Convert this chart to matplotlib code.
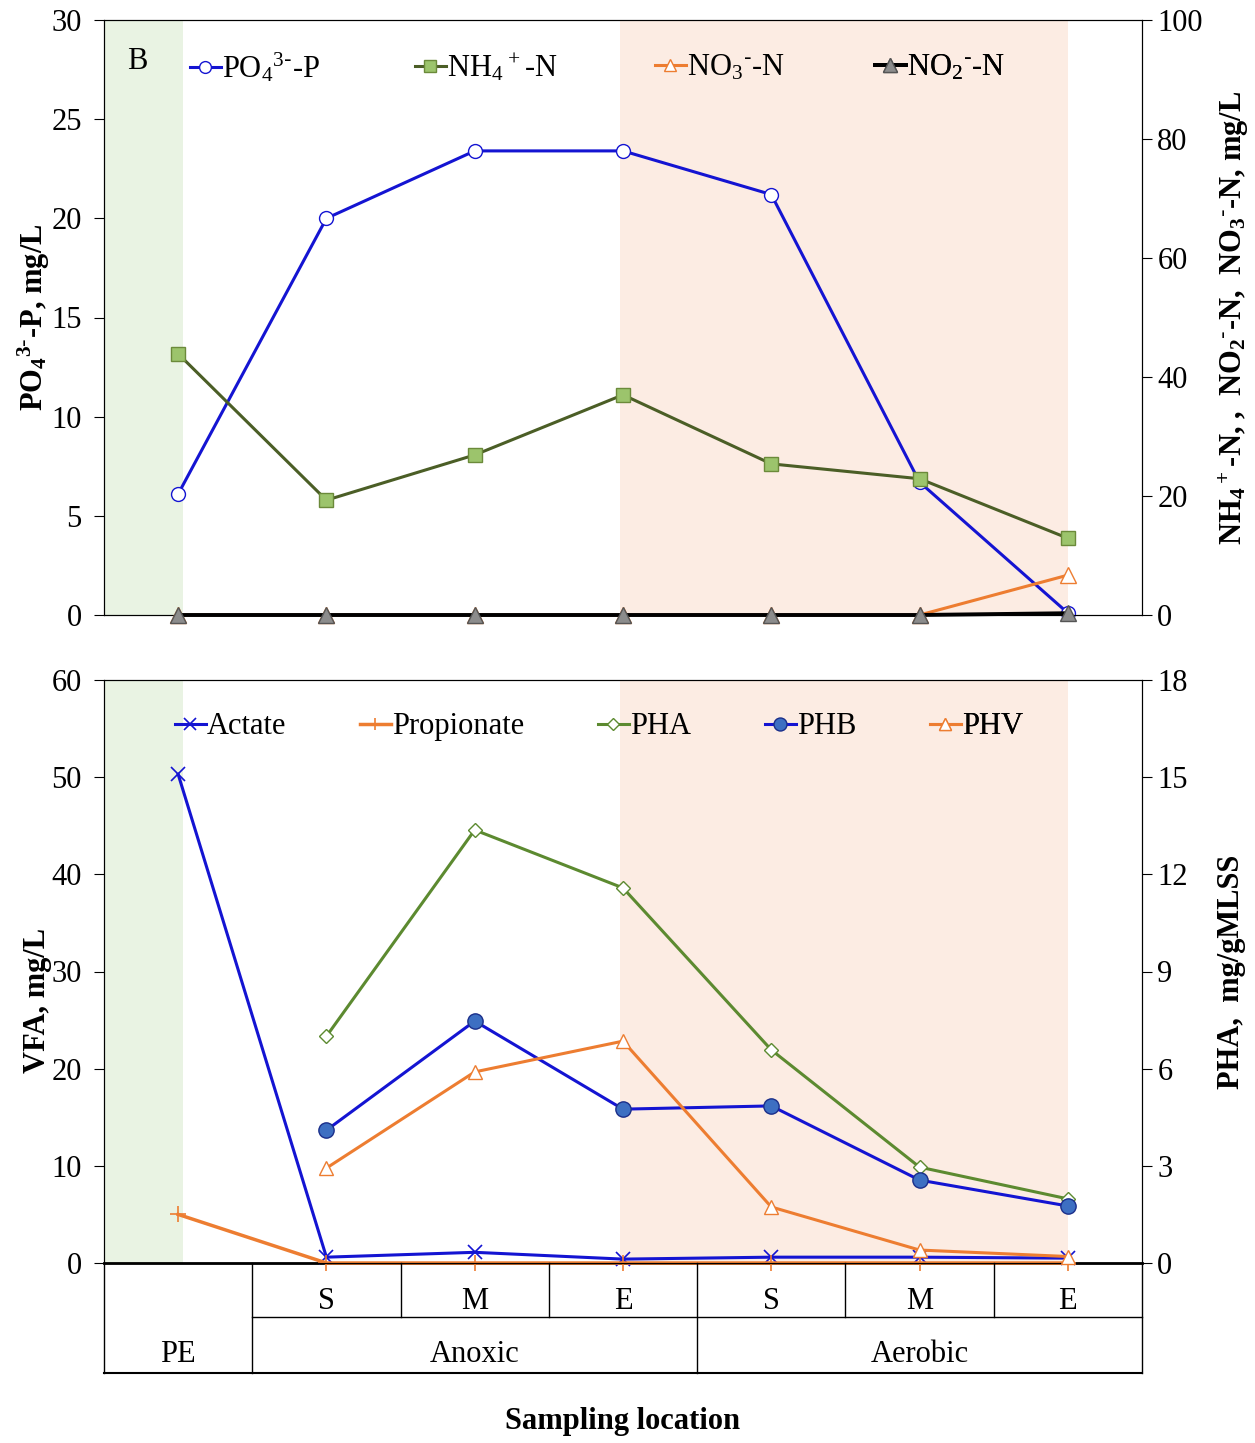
import numpy as np
import matplotlib
matplotlib.use('Agg')
import matplotlib.pyplot as plt

plt.rcParams['font.family'] = ['Liberation Serif', 'DejaVu Serif']
plt.rcParams['mathtext.default'] = 'regular'

# sampling points: PE, anoxic S/M/E, aerobic S/M/E
pos = np.arange(7)
row1 = ['S', 'M', 'E', 'S', 'M', 'E']
zones = ['PE', 'Anoxic', 'Aerobic']

# top panel
po4 = [6.1, 20.0, 23.4, 23.4, 21.2, 6.7, 0.1]
nh4 = [43.9, 19.3, 26.9, 37.0, 25.4, 22.9, 12.9]
no3 = [0, 0, 0, 0, 0, 0, 6.7]
no2 = [0, 0, 0, 0, 0, 0, 0.3]

# bottom panel
acetate = [50.3, 0.6, 1.1, 0.4, 0.6, 0.6, 0.5]
propionate = [5.0, 0, 0, 0, 0, 0, 0]
pha = [7.0, 13.37, 11.58, 6.58, 2.96, 1.98]
phb = [4.1, 7.47, 4.75, 4.85, 2.56, 1.76]
phv = [2.93, 5.9, 6.85, 1.73, 0.4, 0.2]

blue = '#1414d2'
olive = '#4b5e26'
lgreen = '#9cc46c'
orange = '#ed7d31'
grey = '#8c8c8c'
gfill = '#e9f3e3'
ofill = '#fcece3'
FS = 22

fig = plt.figure(figsize=(12.55, 14.43), dpi=100)
W, H = 1255.0, 1443.0
def rect(x0, y0, x1, y1):
    return [x0 / W, 1 - y1 / H, (x1 - x0) / W, (y1 - y0) / H]

ax1 = fig.add_axes(rect(104, 20, 1142, 615))
ax2 = fig.add_axes(rect(104, 680, 1142, 1263))
axt = fig.add_axes(rect(104, 1263, 1142, 1373))

for ax in (ax1, ax2):
    ax.axvspan(-0.5, 0.03, color=gfill, zorder=0, lw=0)
    ax.axvspan(2.98, 6.0, color=ofill, zorder=0, lw=0)
    ax.set_xlim(-0.5, 6.5)
    ax.set_xticks([])
    ax.tick_params(axis='y', labelsize=FS, direction='out', length=7, pad=9)

def put_legend(ax, handle, label, x, y):
    leg = ax.legend([handle], [label], loc='center left', bbox_to_anchor=(x, y),
                    frameon=False, fontsize=FS, borderpad=0, borderaxespad=0,
                    handlelength=1.0, handletextpad=0.05, markerscale=0.85)
    ax.add_artist(leg)

# ---- top
ax1r = ax1.twinx()
ax1.set_ylim(0, 30)
ax1.set_yticks(range(0, 31, 5))
ax1r.set_ylim(0, 100)
ax1r.set_yticks(range(0, 101, 20))
ax1r.tick_params(axis='y', labelsize=FS, direction='out', length=7, pad=4)

lp, = ax1.plot(pos, po4, '-o', color=blue, lw=2.2, ms=10, mfc='white', mec=blue, zorder=3, clip_on=False)
ln, = ax1r.plot(pos, nh4, '-s', color=olive, lw=2.2, ms=10, mfc=lgreen, mec='#6b8a3a', zorder=3)
l3, = ax1r.plot(pos, no3, '-^', color=orange, lw=2.2, ms=11, mfc='white', mec=orange, zorder=3, clip_on=False)
l2, = ax1r.plot(pos, no2, '-^', color='black', lw=2.8, ms=12, mfc=grey, mec='#555555', zorder=4, clip_on=False)

ax1r.text(0.022, 0.955, 'B', transform=ax1.transAxes, fontsize=FS, va='top')
ly = (615 - 68) / 595.0
put_legend(ax1r, lp, r'PO$_4{}^{3\text{-}}$-P', (190 - 104) / 1038.0, ly)
put_legend(ax1r, ln, r'NH$_4{}^+$-N', (415 - 104) / 1038.0, ly)
put_legend(ax1r, l3, r'NO$_3{}^{\text{-}}$-N', (655 - 104) / 1038.0, ly)
put_legend(ax1r, l2, r'NO$_2{}^{\text{-}}$-N', (875 - 104) / 1038.0, ly)

ax1.set_ylabel(r'PO$_4{}^{3\text{-}}$-P, mg/L', fontsize=FS, fontweight='bold')
ax1.yaxis.set_label_coords(-0.050, 0.5)
ax1r.set_ylabel(r'NH$_4{}^+$-N, ,  NO$_2{}^{\text{-}}$-N,  NO$_3{}^{\text{-}}$-N, mg/L', fontsize=FS, fontweight='bold')
ax1r.yaxis.set_label_coords(1.072, 0.5)

# ---- bottom
ax2r = ax2.twinx()
ax2.set_ylim(0, 60)
ax2.set_yticks(range(0, 61, 10))
ax2r.set_ylim(0, 18)
ax2r.set_yticks(range(0, 19, 3))
ax2r.tick_params(axis='y', labelsize=FS, direction='out', length=7, pad=4)

la, = ax2.plot(pos, acetate, '-x', color=blue, lw=2.2, ms=10, mew=1.2, zorder=3, clip_on=False)
lpr, = ax2.plot(pos, propionate, '-+', color=orange, lw=2.5, ms=11, mew=1.2, zorder=3, clip_on=False)
lha, = ax2r.plot(pos[1:], pha, '-D', color='#5c8a30', lw=2.2, ms=7.5, mfc='white', mec='#5c8a30', zorder=3)
lhb, = ax2r.plot(pos[1:], phb, '-o', color=blue, lw=2.2, ms=11, mfc='#3d6fc2', mec='#1a2e8a', zorder=3)
lhv, = ax2r.plot(pos[1:], phv, '-^', color=orange, lw=2.2, ms=10, mfc='white', mec=orange, zorder=3, clip_on=False)

ly = (1263 - 727) / 583.0
put_legend(ax2r, la, 'Actate', (175 - 104) / 1038.0, ly)
put_legend(ax2r, lpr, 'Propionate', (360 - 104) / 1038.0, ly)
put_legend(ax2r, lha, 'PHA', (598 - 104) / 1038.0, ly)
put_legend(ax2r, lhb, 'PHB', (765 - 104) / 1038.0, ly)
put_legend(ax2r, lhv, 'PHV', (930 - 104) / 1038.0, ly)

ax2.set_ylabel('VFA, mg/L', fontsize=FS, fontweight='bold')
ax2.yaxis.set_label_coords(-0.050, 0.45)
ax2r.set_ylabel('PHA,  mg/gMLSS', fontsize=FS, fontweight='bold')
ax2r.yaxis.set_label_coords(1.072, 0.5)
ax2.spines['bottom'].set_linewidth(2)

# ---- location table
axt.set_xlim(-0.5, 6.5)
axt.set_ylim(0, 2)
axt.axis('off')
lk = dict(color='black', lw=1, clip_on=False)
axt.plot([-0.5, -0.5], [0, 2], **lk)
axt.plot([6.5, 6.5], [0, 2], **lk)
axt.plot([-0.5, 6.5], [0, 0], color='black', lw=1.5, clip_on=False)
axt.plot([0.5, 6.5], [1.02, 1.02], **lk)
for xv in [0.5, 3.5]:
    axt.plot([xv, xv], [0, 2], **lk)
for xv in [1.5, 2.5, 4.5, 5.5]:
    axt.plot([xv, xv], [1.02, 2], **lk)
for p, t in zip(pos[1:], row1):
    axt.text(p, 1.3, t, ha='center', va='center', fontsize=FS)
axt.text(0, 0.33, zones[0], ha='center', va='center', fontsize=FS)
axt.text(2, 0.33, zones[1], ha='center', va='center', fontsize=FS)
axt.text(5, 0.33, zones[2], ha='center', va='center', fontsize=FS)

fig.text(623 / W, 1 - 1422 / H, 'Sampling location', ha='center', va='center',
         fontsize=FS, fontweight='bold')

fig.savefig('out.png', dpi=100)
